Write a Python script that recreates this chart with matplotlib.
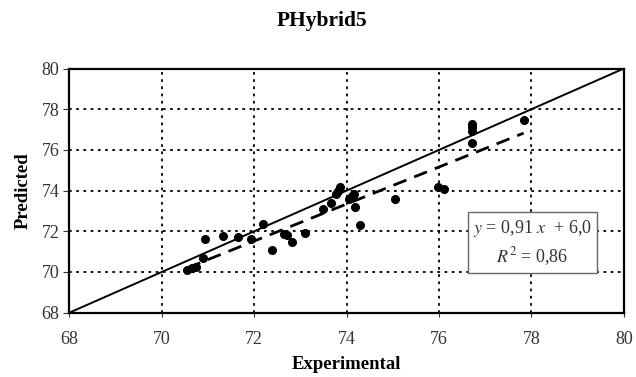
import numpy as np
import matplotlib.pyplot as plt

plt.rcParams['font.family'] = ['Liberation Serif', 'DejaVu Serif']

# Datos experimentales vs predichos (PHybrid5)
experimental = [70.55, 70.66, 70.75, 70.89, 70.93, 71.32, 71.66, 71.93, 72.20, 72.39,
                72.65, 72.71, 72.81, 73.10, 73.49, 73.66, 73.76, 73.81, 73.86, 74.06,
                74.12, 74.17, 74.19, 74.29, 75.05, 75.98, 76.11, 76.72, 76.72, 76.72,
                76.72, 77.83]
predicted = [70.12, 70.21, 70.24, 70.70, 71.60, 71.77, 71.72, 71.60, 72.35, 71.10,
             71.89, 71.80, 71.47, 71.90, 73.09, 73.38, 73.83, 73.99, 74.19, 73.58,
             73.74, 73.83, 73.17, 72.30, 73.58, 74.16, 74.07, 77.28, 77.12, 76.95,
             76.33, 77.48]

# Ajuste lineal indicado en el recuadro
slope = 0.91
intercept = 6.0
r2 = 0.86

lims = [68, 80]
ticks = [68, 70, 72, 74, 76, 78, 80]
gris = '#333333'

fig = plt.figure(figsize=(6.36, 3.77), dpi=100)
ax = fig.add_axes([0.109, 0.1706, 0.872, 0.6477])

ax.plot(lims, lims, color='black', lw=1.4, zorder=3)
xfit = np.array([min(experimental), max(experimental)])
ax.plot(xfit, slope * xfit + intercept, color='black', lw=2.0, ls=(0, (5, 3)), zorder=3)
ax.plot(experimental, predicted, 'o', color='black', ms=5.5, zorder=4)

ax.set_xlim(lims)
ax.set_ylim(lims)
ax.set_xticks(ticks)
ax.set_yticks(ticks)
ax.grid(True, color='black', ls=(0, (1.5, 2.5)), lw=1.3)
ax.set_axisbelow(True)
for s in ax.spines.values():
    s.set_linewidth(1.6)
ax.tick_params(axis='x', length=3, direction='out', pad=10, labelsize=13,
               labelcolor=gris, color=gris)
ax.tick_params(axis='y', length=4, direction='out', labelsize=13, pad=3,
               labelcolor=gris, color=gris)

fig.suptitle('PHybrid5', x=0.506, y=0.97, fontsize=15.5, fontweight='bold')
ax.set_xlabel('Experimental', fontsize=13.5, fontweight='bold', labelpad=6)
ax.set_ylabel('Predicted', fontsize=13.5, fontweight='bold', labelpad=7)

txt = '$y$ = %s $x$  + %s\n$R^2$ = %s' % (
    str(slope).replace('.', ','), str(intercept).replace('.', ','),
    str(r2).replace('.', ','))
ax.text(78.02, 71.43, txt, ha='center', va='center', fontsize=13,
        linespacing=1.35, math_fontfamily='stix', color=gris,
        bbox=dict(boxstyle='square,pad=0.3', fc='white', ec='#666666', lw=1.0),
        zorder=5)

fig.savefig('out.png', dpi=100)
